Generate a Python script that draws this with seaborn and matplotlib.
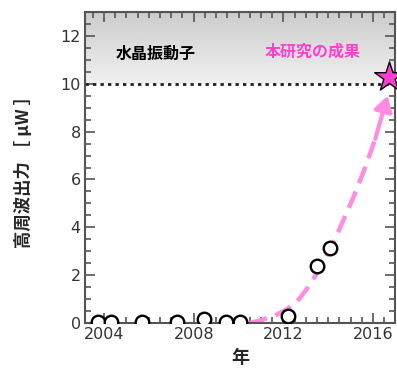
import numpy as np
import pandas as pd
import seaborn as sns
import matplotlib.pyplot as plt
from matplotlib.ticker import MultipleLocator

sns.set_style("ticks")
plt.rcParams['font.family'] = ['DejaVu Sans', 'Noto Sans CJK JP']

# measured points (open circles)
years = [2003.75, 2004.3, 2005.7, 2007.25, 2008.45, 2009.45, 2010.05, 2012.2, 2013.5, 2014.1]
power = [0.05, 0.05, 0.05, 0.05, 0.17, 0.05, 0.05, 0.3, 2.4, 3.15]

# trend (dashed pink)
trend_years = [2010.5, 2011.0, 2011.6, 2012.2, 2012.7, 2013.1, 2013.65, 2014.3, 2015.1, 2015.65, 2016.1]
trend_power = [0.0, 0.12, 0.3, 0.6, 1.0, 1.5, 2.3, 3.5, 5.2, 6.5, 7.7]
arrow_tip = (2016.65, 9.5)

# this work
star_year = [2016.7]
star_power = [10.3]

quartz_level = 10
pink = '#ff3fd0'

df = pd.DataFrame({'year': years, 'power': power})
trend = pd.DataFrame({'year': trend_years, 'power': trend_power})

fig = plt.figure(figsize=(3.97, 3.86), dpi=100)
ax = fig.add_axes([0.214, 0.163, 0.781, 0.806])

# gray band above quartz level (lighter near the line, darker at top)
grad = np.linspace(0.94, 0.80, 50).reshape(-1, 1)
ax.imshow(grad, cmap='gray', vmin=0, vmax=1, aspect='auto', origin='lower',
          extent=[2003.15, 2016.98, quartz_level, 13], zorder=0)
ax.axhline(quartz_level, color='#222222', lw=2, ls=(0, (1.2, 1.5)), zorder=2)

# thin magenta baseline under early points
ax.plot([years[0], 2010.6], [0, 0], color='#cc33aa', lw=1, zorder=1)

sns.lineplot(data=trend, x='year', y='power', sort=False, color='#ff8ce0',
             lw=3.2, ax=ax, zorder=2, dashes=False, linestyle=(0, (4, 2)))
ax.annotate('', xy=arrow_tip, xytext=(trend_years[-1], trend_power[-1]),
            arrowprops=dict(arrowstyle='-|>,head_width=0.55,head_length=0.9',
                            color='#ff8ce0', lw=3, shrinkA=0, shrinkB=0), zorder=2)

sns.scatterplot(data=df, x='year', y='power', ax=ax, s=95, facecolor='white',
                edgecolor='black', linewidth=1.7, zorder=3, legend=False)
ax.scatter(star_year, star_power, marker='*', s=500, color=pink,
           edgecolor='black', linewidth=1, zorder=4, clip_on=False)

ax.text(2006.3, 11.25, '水晶振動子', family=['Noto Sans CJK JP'], fontweight='bold',
        fontsize=11.5, ha='center', va='center', color='black')
ax.text(2013.3, 11.35, '本研究の成果', family=['Noto Sans CJK JP'], fontweight='bold',
        fontsize=11.5, ha='center', va='center', color=pink)

ax.set_xlim(2003.15, 2016.98)
ax.set_ylim(0, 13)
ax.xaxis.set_major_locator(MultipleLocator(4))
ax.xaxis.set_minor_locator(MultipleLocator(0.5))
ax.yaxis.set_minor_locator(MultipleLocator(0.5))
ax.set_yticks([0, 2, 4, 6, 8, 10, 12])
ax.tick_params(which='both', direction='in', top=True, right=True,
               color='#555555', width=1.2)
ax.tick_params(which='major', length=7, labelsize=11.5, labelcolor='#333333', pad=3)
ax.tick_params(which='minor', length=4)
for s in ax.spines.values():
    s.set_color('#555555')
    s.set_linewidth(1.5)

ax.set_xlabel('年', family=['Noto Sans CJK JP'], fontweight='bold', fontsize=13, labelpad=4)
ax.set_ylabel('高周波出力 ［ μW ］', family=['Noto Sans CJK JP', 'DejaVu Sans'],
              fontweight='bold', fontsize=12.5, labelpad=20)

fig.savefig('out.png', dpi=100)
